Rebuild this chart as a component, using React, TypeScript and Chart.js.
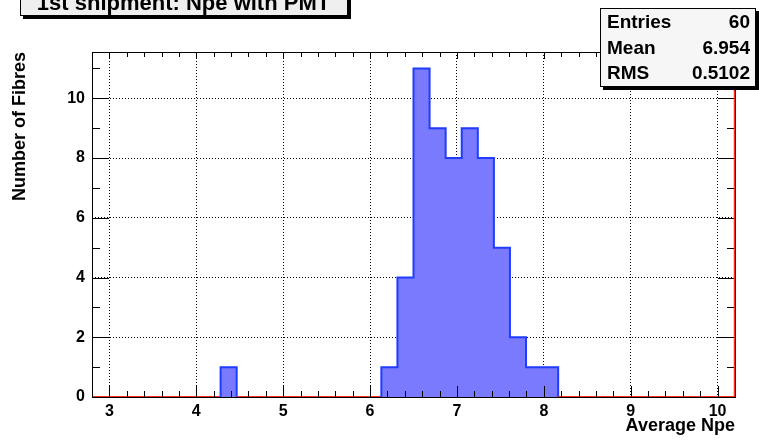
import React, { useEffect, useRef } from 'react';
import { Chart, registerables } from 'chart.js';

Chart.register(...registerables);

// ---- data ----
const X_MIN = 2.8;
const X_MAX = 10.2;
const Y_MAX = 11.55;
const binCounts = [
  0, 0, 0, 0, 0, 0, 0, 0, 1, 0,
  0, 0, 0, 0, 0, 0, 0, 0, 1, 4,
  11, 9, 8, 9, 8, 5, 2, 1, 1, 0,
  0, 0, 0, 0, 0, 0, 0, 0, 0, 0,
];
const xTickValues = [3, 4, 5, 6, 7, 8, 9, 10];
const yTickValues = [0, 2, 4, 6, 8, 10];
const titleText = '1st shipment: Npe with PMT';
const xAxisTitle = 'Average Npe';
const yAxisTitle = 'Number of Fibres';
const statLabels = ['Entries', 'Mean', 'RMS'];
const statValues = ['60', '6.954', '0.5102'];

// ---- style ----
const FONT = "'Liberation Sans', Arial, Helvetica, sans-serif";
const BLUE = '#1f3cff';
const FILL = '#7a7aff';
const RED = '#ff2a1a';

const rootPlugin = {
  id: 'rootFrame',
  afterDatasetsDraw(chart: any) {
    const { ctx, chartArea: a, scales } = chart;
    const x = scales.x;
    const y = scales.y;
    ctx.save();
    ctx.strokeStyle = '#000';
    ctx.lineWidth = 1;
    // frame
    ctx.strokeRect(a.left + 0.5, a.top + 0.5, a.right - a.left, a.bottom - a.top);
    // x ticks (inside, bottom and top)
    ctx.beginPath();
    for (let i = -1; i <= 36; i++) {
      const v = 3 + 0.2 * i;
      if (v < X_MIN - 1e-6 || v > X_MAX + 1e-6) continue;
      const major = i % 5 === 0;
      const px = Math.round(x.getPixelForValue(v)) + 0.5;
      const lb = major ? 11 : 6;
      const lt = major ? 7 : 5;
      ctx.moveTo(px, a.bottom);
      ctx.lineTo(px, a.bottom - lb);
      ctx.moveTo(px, a.top);
      ctx.lineTo(px, a.top + lt);
    }
    // y ticks (inside, left and right)
    for (let v = 0; v <= 11; v++) {
      const major = v % 2 === 0;
      const py = Math.round(y.getPixelForValue(v)) + 0.5;
      const l = major ? 17 : 8;
      ctx.moveTo(a.left, py);
      ctx.lineTo(a.left + l, py);
      ctx.moveTo(a.right, py);
      ctx.lineTo(a.right - l, py);
    }
    ctx.stroke();
    // red right edge
    ctx.strokeStyle = RED;
    ctx.lineWidth = 1.5;
    ctx.beginPath();
    ctx.moveTo(a.right - 0.5, a.top);
    ctx.lineTo(a.right - 0.5, a.bottom);
    ctx.stroke();
    ctx.restore();
  },
  afterDraw(chart: any) {
    const { ctx } = chart;
    ctx.save();
    // title box
    const tb = { x: 20, y: -12, w: 327, h: 27 };
    ctx.fillStyle = '#000';
    ctx.fillRect(tb.x + 3, tb.y + 3, tb.w + 1, tb.h + 1);
    ctx.fillStyle = '#efefef';
    ctx.fillRect(tb.x, tb.y, tb.w, tb.h);
    ctx.strokeStyle = '#000';
    ctx.lineWidth = 1;
    ctx.strokeRect(tb.x + 0.5, tb.y + 0.5, tb.w, tb.h);
    ctx.fillStyle = '#000';
    ctx.font = `bold 22px ${FONT}`;
    ctx.textAlign = 'center';
    ctx.textBaseline = 'alphabetic';
    ctx.fillText(titleText, tb.x + tb.w / 2, 10);

    // stats box
    const sb = { x: 600, y: 8, w: 155, h: 78 };
    ctx.fillStyle = '#000';
    ctx.fillRect(sb.x + 3, sb.y + 3, sb.w + 1, sb.h + 1);
    ctx.fillStyle = '#f6f6f6';
    ctx.fillRect(sb.x, sb.y, sb.w, sb.h);
    ctx.strokeRect(sb.x + 0.5, sb.y + 0.5, sb.w, sb.h);
    ctx.fillStyle = '#000';
    ctx.font = `bold 19px ${FONT}`;
    const baselines = [28, 53.5, 79];
    statLabels.forEach((lab, i) => {
      ctx.textAlign = 'left';
      ctx.fillText(lab, sb.x + 7, baselines[i]);
      ctx.textAlign = 'right';
      ctx.fillText(statValues[i], sb.x + sb.w - 5, baselines[i]);
    });
    ctx.restore();
  },
};

export default function App() {
  const ref = useRef<HTMLCanvasElement>(null);
  useEffect(() => {
    document.body.style.margin = '0';
    const canvas = ref.current!;
    const binWidth = (X_MAX - X_MIN) / binCounts.length;
    const points: { x: number; y: number }[] = [];
    binCounts.forEach((c, i) => {
      const lo = X_MIN + i * binWidth;
      points.push({ x: lo, y: c }, { x: lo + binWidth, y: c });
    });
    const tickFont = { family: FONT, size: 16, weight: 'bold' as const };
    const titleFont = { family: FONT, size: 18, weight: 'bold' as const };
    const chart = new Chart(canvas, {
      type: 'line',
      data: {
        datasets: [
          {
            data: points,
            borderColor: BLUE,
            backgroundColor: FILL,
            borderWidth: 2,
            fill: 'origin',
            pointRadius: 0,
            tension: 0,
            segment: {
              borderColor: (c: any) =>
                c.p0.parsed.y === 0 && c.p1.parsed.y === 0 ? RED : BLUE,
            },
          } as any,
        ],
      },
      options: {
        animation: false,
        responsive: false,
        devicePixelRatio: 1,
        layout: { padding: { top: 52, right: 24, left: 0, bottom: 0 } },
        plugins: { legend: { display: false }, tooltip: { enabled: false } },
        scales: {
          x: {
            type: 'linear',
            min: X_MIN,
            max: X_MAX,
            afterBuildTicks: (s: any) => {
              s.ticks = xTickValues.map((v) => ({ value: v }));
            },
            afterFit: (s: any) => {
              s.height = 44;
            },
            grid: { color: '#000', lineWidth: 1, drawTicks: false },
            border: { display: false, dash: [1, 2] },
            ticks: {
              color: '#000',
              font: tickFont,
              padding: 5,
              maxRotation: 0,
              autoSkip: false,
            },
            title: {
              display: true,
              text: xAxisTitle,
              align: 'end',
              color: '#000',
              font: titleFont,
              padding: { top: 0, bottom: 4 },
            },
          },
          y: {
            type: 'linear',
            min: 0,
            max: Y_MAX,
            afterBuildTicks: (s: any) => {
              s.ticks = yTickValues.map((v) => ({ value: v }));
            },
            afterFit: (s: any) => {
              s.width = 92;
            },
            grid: { color: '#000', lineWidth: 1, drawTicks: false },
            border: { display: false, dash: [1, 2] },
            ticks: { color: '#000', font: tickFont, padding: 7, autoSkip: false },
            title: {
              display: true,
              text: yAxisTitle,
              align: 'end',
              color: '#000',
              font: titleFont,
              padding: { top: 9, bottom: 0 },
            },
          },
        },
      },
      plugins: [rootPlugin],
    } as any);
    return () => chart.destroy();
  }, []);
  return (
    <div style={{ position: 'absolute', left: 0, top: 0, width: 759, height: 441 }}>
      <canvas ref={ref} width={759} height={441} style={{ display: 'block', width: 759, height: 441 }} />
    </div>
  );
}
